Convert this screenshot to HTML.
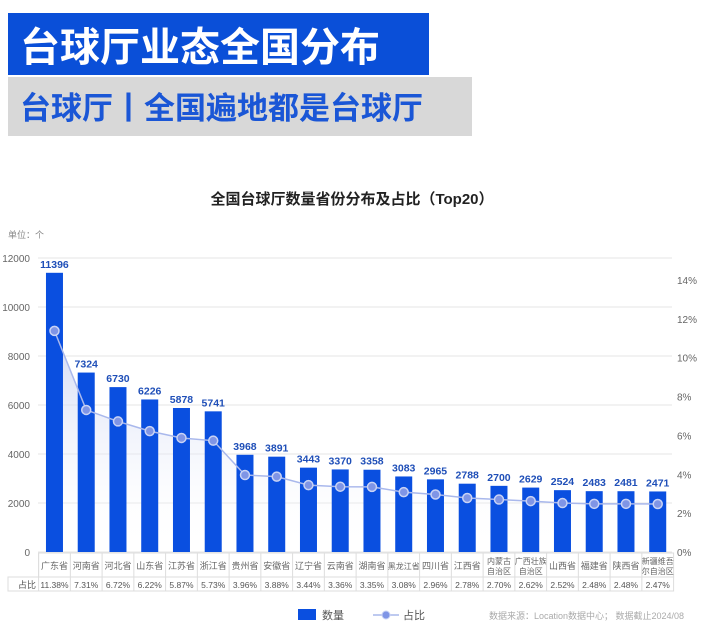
<!DOCTYPE html>
<html><head><meta charset="utf-8"><style>
body{margin:0;width:704px;height:626px;background:#fff;overflow:hidden;font-family:"Liberation Sans","Noto Sans CJK SC",sans-serif}
</style></head><body>
<svg width="704" height="626" xmlns="http://www.w3.org/2000/svg" font-family="Liberation Sans, Noto Sans CJK SC, sans-serif">
<defs><linearGradient id="g" x1="0" y1="0" x2="0" y2="1"><stop offset="0" stop-color="#c3cdf0" stop-opacity="0.8"/><stop offset="1" stop-color="#fff" stop-opacity="0"/></linearGradient></defs>
<rect x="8" y="13" width="421" height="62" fill="#0a4fd8"/>
<text x="20" y="61" font-size="40" font-weight="bold" fill="#fff" font-family="Noto Sans CJK SC, sans-serif">台球厅业态全国分布</text>
<rect x="8" y="77" width="464" height="59" fill="#d8d8d8"/>
<text x="20" y="119" font-size="31" font-weight="bold" fill="#1a56d6" font-family="Noto Sans CJK SC, sans-serif">台球厅丨全国遍地都是台球厅</text>
<text x="352" y="204" font-size="15" font-weight="bold" fill="#222" text-anchor="middle">全国台球厅数量省份分布及占比（Top20）</text>
<text x="8" y="238" font-size="9" fill="#888">单位：个</text>
<g id="c"></g>
</svg>
<script>
const cats=["广东省","河南省","河北省","山东省","江苏省","浙江省","贵州省","安徽省","辽宁省","云南省","湖南省","黑龙江省","四川省","江西省","内蒙古|自治区","广西壮族|自治区","山西省","福建省","陕西省","新疆维吾|尔自治区"];
const v=[11396,7324,6730,6226,5878,5741,3968,3891,3443,3370,3358,3083,2965,2788,2700,2629,2524,2483,2481,2471];
const p=[11.38,7.31,6.72,6.22,5.87,5.73,3.96,3.88,3.44,3.36,3.35,3.08,2.96,2.78,2.70,2.62,2.52,2.48,2.48,2.47];
let s='';const y0=552,x0=38.6,w=31.75;
for(let i=0;i<=6;i++){const y=y0-i*2000*0.0245;s+=`<line x1="38" x2="672" y1="${y}" y2="${y}" stroke="#e6e6e6"/><text x="30" y="${y+4}" font-size="10" fill="#666" text-anchor="end">${i*2000}</text><text x="677" y="${y0-i*2*19.43+4}" font-size="10" fill="#666">${i*2}%</text>`;}
s+=`<text x="677" y="${y0-14*19.43+4}" font-size="10" fill="#666">14%</text>`;
let pts=[];
for(let i=0;i<20;i++){const cx=x0+w*(i+.5);pts.push([cx,y0-p[i]*19.43]);}
s+=`<path d="M${pts.map(q=>q.join(',')).join('L')}L${pts[19][0]},552L${pts[0][0]},552Z" fill="url(#g)"/>`;
for(let i=0;i<20;i++){const cx=x0+w*(i+.5);const h=v[i]*0.0245;s+=`<rect x="${cx-8.5}" y="${y0-h}" width="17" height="${h}" fill="#0a4fe0"/><text x="${cx}" y="${y0-h-5}" font-size="10.5" font-weight="bold" fill="#1f4fb8" text-anchor="middle">${v[i]}</text>`;}
s+=`<polyline points="${pts.map(q=>q.join(',')).join(' ')}" fill="none" stroke="#a9b8ec" stroke-width="1.5"/>`;
pts.forEach(q=>s+=`<circle cx="${q[0]}" cy="${q[1]}" r="4.5" fill="#7f95e6" stroke="#c9d3f5" stroke-width="1.5"/>`);
s+=`<rect x="8" y="577" width="${x0+20*w-8}" height="14" fill="none" stroke="#ddd"/><rect x="${x0}" y="553" width="${20*w}" height="24" fill="none" stroke="#ddd"/><text x="18" y="588" font-size="9" fill="#555">占比</text>`;
for(let i=0;i<20;i++){const x=x0+w*i,cx=x+w/2;s+=`<line x1="${x}" x2="${x}" y1="553" y2="591" stroke="#ddd"/>`;
const c=cats[i].split('|');if(c.length==1)s+=`<text x="${cx}" y="569" font-size="${c[0].length>3?8:9}" fill="#666" text-anchor="middle">${c[0]}</text>`;else s+=`<text x="${cx}" y="564" font-size="8" fill="#666" text-anchor="middle">${c[0]}</text><text x="${cx}" y="574" font-size="8" fill="#666" text-anchor="middle">${c[1]}</text>`;
s+=`<text x="${cx}" y="588" font-size="8.5" fill="#555" text-anchor="middle">${p[i].toFixed(2)}%</text>`;}
s+=`<rect x="298" y="609" width="18" height="11" fill="#0a4fe0"/><text x="322" y="619" font-size="11" fill="#555">数量</text><line x1="373" x2="399" y1="615" y2="615" stroke="#a9b8ec" stroke-width="1.5"/><circle cx="386" cy="615" r="4" fill="#7f95e6" stroke="#c9d3f5"/><text x="403" y="619" font-size="11" fill="#555">占比</text><text x="684" y="619" font-size="9" fill="#aaa" text-anchor="end">数据来源：Location数据中心；  数据截止2024/08</text>`;
document.getElementById('c').innerHTML=s;
</script>
</body></html>
